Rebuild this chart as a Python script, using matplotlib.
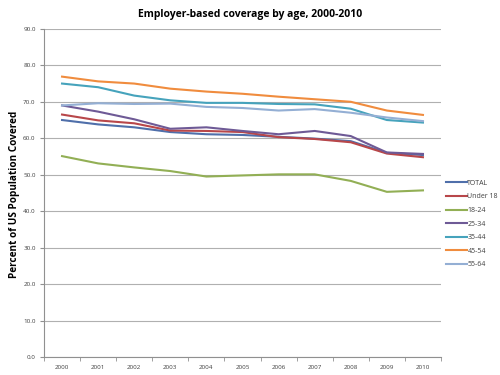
import matplotlib
matplotlib.use("Agg")
import matplotlib.pyplot as plt
import numpy as np

years = ['2000', '2001', '2002', '2003', '2004', '2005', '2006', '2007', '2008', '2009', '2010']
total = [65.0, 63.8, 63.0, 61.7, 61.1, 60.9, 60.4, 59.9, 59.2, 56.0, 55.4]
under18 = [66.5, 64.9, 64.1, 62.1, 62.0, 61.7, 60.3, 59.8, 58.9, 55.8, 54.8]
age18_24 = [55.1, 53.1, 52.0, 51.0, 49.5, 49.8, 50.1, 50.1, 48.3, 45.3, 45.7]
age25_34 = [69.0, 67.3, 65.2, 62.6, 63.0, 62.0, 61.1, 62.0, 60.6, 56.1, 55.7]
age35_44 = [75.0, 74.0, 71.7, 70.4, 69.7, 69.7, 69.4, 69.3, 68.1, 65.0, 64.3]
age45_54 = [76.9, 75.6, 75.0, 73.6, 72.8, 72.2, 71.4, 70.7, 70.0, 67.6, 66.4]
age55_64 = [69.0, 69.6, 69.4, 69.5, 68.6, 68.3, 67.6, 68.0, 67.0, 65.7, 64.7]

series = [
    ('TOTAL', total, '#4F6FAA'),
    ('Under 18', under18, '#B8474A'),
    ('18-24', age18_24, '#92AF55'),
    ('25-34', age25_34, '#6E5A96'),
    ('35-44', age35_44, '#46A3BC'),
    ('45-54', age45_54, '#F08C3E'),
    ('55-64', age55_64, '#94AFD4'),
]

plt.rcParams['font.family'] = ['Open Sans', 'DejaVu Sans']

fig = plt.figure(figsize=(5, 3.75), dpi=100)
ax = fig.add_axes([0.088, 0.048, 0.794, 0.875])

x = np.arange(len(years))
for name, vals, col in series:
    ax.plot(x, vals, color=col, lw=1.5, label=name)

ax.set_ylim(0, 90)
ax.set_yticks(np.arange(0, 91, 10))
ax.set_yticklabels(['%.1f' % v for v in np.arange(0, 91, 10)], fontsize=4.5, color='#404040')
ax.yaxis.grid(True, color='#b0b0b0', lw=0.8)
ax.set_axisbelow(True)

ax.set_xlim(-0.5, len(years) - 0.5)
ax.set_xticks(x)
ax.set_xticklabels(years, fontsize=4.5, color='#404040')
ax.set_xticks(np.arange(-0.5, len(years), 1), minor=True)
ax.tick_params(axis='x', which='major', length=0, pad=6)
ax.tick_params(axis='x', which='minor', length=3, color='#909090')
ax.tick_params(axis='y', length=3, color='#909090', pad=3)

for s in ['top', 'right']:
    ax.spines[s].set_visible(False)
for s in ['left', 'bottom']:
    ax.spines[s].set_color('#909090')
    ax.spines[s].set_linewidth(0.8)

fig.text(0.03, 0.483, 'Percent of US Population Covered', rotation=90,
         ha='center', va='center', fontsize=7.2, fontweight='bold')
fig.suptitle('Employer-based coverage by age, 2000-2010', fontsize=7.5,
             fontweight='bold', y=0.975)

ax.legend(loc='upper left', bbox_to_anchor=(1.0, 0.555), frameon=False, fontsize=5,
          handlelength=3.0, handletextpad=0.1, labelspacing=0.95, borderaxespad=0.3,
          labelcolor='#404040')

fig.savefig('out.png', dpi=100)
